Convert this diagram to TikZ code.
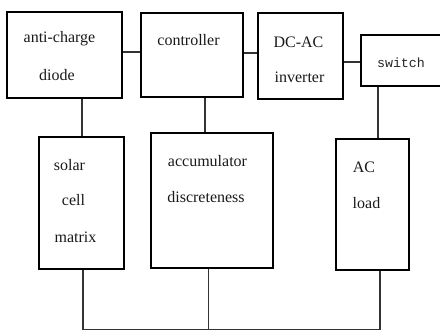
\documentclass[tikz,border=0pt]{standalone}
\usepackage{fontspec}
\setmainfont{Liberation Serif}
\newfontfamily\monofont{Liberation Mono}
\begin{document}
\begin{tikzpicture}[x=1pt,y=-1pt,
  blk/.style={draw=black,line width=1.6pt,rectangle,inner sep=0pt},
  lbl/.style={inner sep=0pt,font=\fontsize{16}{18}\selectfont,text=black!90},
  wire/.style={draw=black!80,line width=1.3pt}]
\useasboundingbox (0,0) rectangle (440,331);
\clip (0,0) rectangle (440,331);
\node[blk,minimum width=115pt,minimum height=86pt] (diode) at (64.5,55) {};
\node[blk,minimum width=102pt,minimum height=84pt] (ctrl) at (192,55) {};
\node[blk,minimum width=85pt,minimum height=86pt] (inv) at (300.5,56) {};
\node[blk,minimum width=109pt,minimum height=51pt] (sw) at (415.5,60.5) {};
\node[blk,minimum width=85pt,minimum height=132pt] (solar) at (81.5,203) {};
\node[blk,minimum width=122pt,minimum height=135pt] (acc) at (212,200.5) {};
\node[blk,minimum width=73pt,minimum height=131pt] (load) at (372.5,204.5) {};
\node[lbl] (t1) at (59.5,39) {anti-charge};
\node[lbl] (t2) at (57,75) {diode};
\node[lbl] (t3) at (188.5,40) {controller};
\node[lbl] (t4) at (298.5,42) {DC-AC};
\node[lbl] (t5) at (299.5,77) {inverter};
\node[inner sep=0pt,font=\monofont\fontsize{13.3}{15}\selectfont,text=black!85] (t6) at (401,63) {switch};
\node[lbl] (t7) at (69.5,165) {solar};
\node[lbl] (t8) at (73.5,200) {cell};
\node[lbl] (t9) at (75.5,237) {matrix};
\node[lbl] (t10) at (207.5,161) {accumulator};
\node[lbl] (t11) at (206,197) {discreteness};
\node[lbl] (t12) at (364,167) {AC};
\node[lbl] (t13) at (366.5,203) {load};
\draw[wire] (diode.east |- 0,52) -- (ctrl.west |- 0,52);
\draw[wire] (ctrl.east |- 0,53) -- (inv.west |- 0,53);
\draw[wire] (inv.east |- 0,62) -- (sw.west |- 0,62);
\draw[wire] (diode.south -| 82,0) -- (solar.north -| 82,0);
\draw[wire] (ctrl.south -| 205,0) -- (acc.north -| 205,0);
\draw[wire] (sw.south -| 378,0) -- (load.north -| 378,0);
\coordinate (b1) at (83,329.5);
\coordinate (b2) at (208.5,329.5);
\coordinate (b3) at (380,329.5);
\draw[wire] (solar.south -| b1) -- (b1) -- (b3) -- (load.south -| b3);
\draw[wire] (acc.south -| b2) -- (b2);
\end{tikzpicture}
\end{document}
